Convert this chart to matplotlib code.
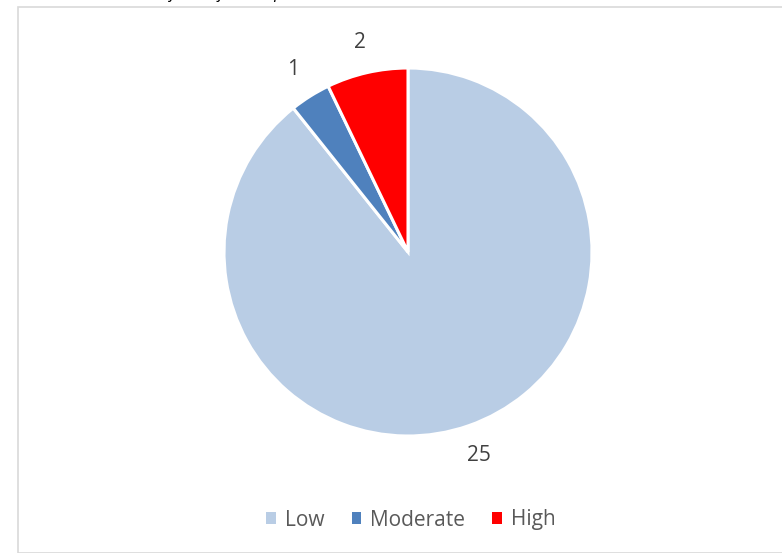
import numpy as np
import matplotlib.pyplot as plt
from matplotlib.patches import Rectangle, Patch

categories = ["Low", "Moderate", "High"]
values = [25, 1, 2]
colors = ["#B9CDE5", "#4F81BD", "#FF0000"]

plt.rcParams['font.family'] = ['Open Sans', 'DejaVu Sans']

fig = plt.figure(figsize=(7.82, 5.53), dpi=100)

# chart frame (partly cut off by the page edge)
fig.patches.append(Rectangle((18 / 782, 0), 1.0, 1 - 7 / 553, transform=fig.transFigure,
                             fill=False, edgecolor="#D9D9D9", linewidth=1.2))
# caption above the chart, mostly cut off by the page edge
fig.text(0.024, 1.003, "Conductors' extent of use of local speech", style="italic",
         fontsize=12, color="#000000", va="baseline")

r = 184 / 553
ax = fig.add_axes([(408 - 184) / 782, (553 - 252 - 184) / 553, 2 * 184 / 782, 2 * r])
wedges, texts = ax.pie(values, colors=colors, startangle=90, counterclock=False,
                       labels=[str(v) for v in values], labeldistance=1.17,
                       wedgeprops=dict(edgecolor="white", linewidth=2.2),
                       textprops=dict(fontsize=15, color="#404040"))
for t in texts:
    t.set_ha("center")
    t.set_va("center")
ax.set_xlim(-1, 1)
ax.set_ylim(-1, 1)
ax.set_aspect("equal")

handles = [Patch(facecolor=c, edgecolor="none") for c in colors]
fig.legend(handles, categories, loc="center", bbox_to_anchor=(411 / 782, 1 - 520 / 553),
           ncol=3, frameon=False, fontsize=15, handlelength=0.45, handleheight=0.45,
           handletextpad=0.45, columnspacing=1.3, labelcolor="#595959")

plt.savefig("out.png", dpi=100)
